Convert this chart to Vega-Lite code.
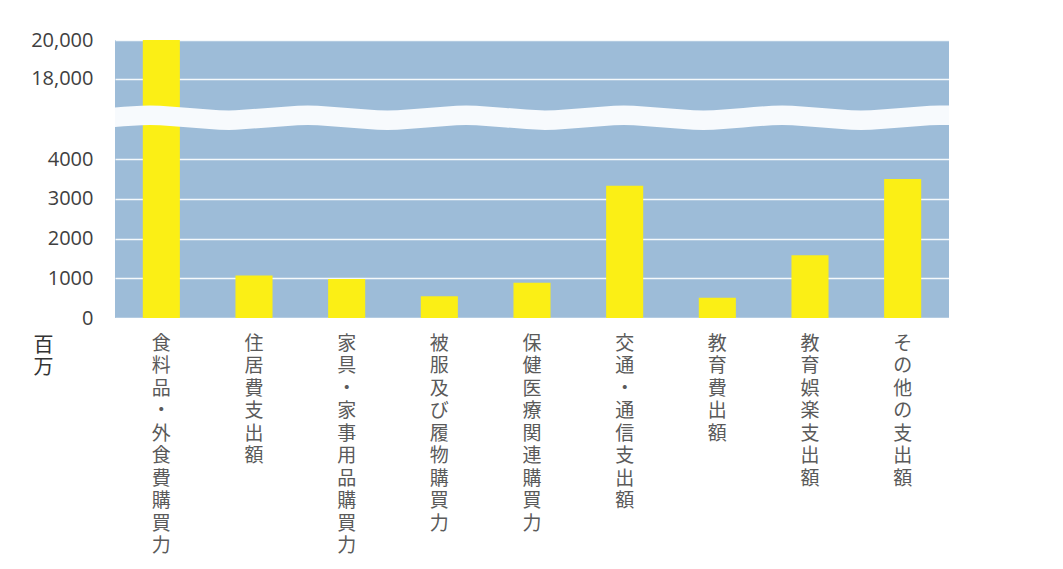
{
  "$schema": "https://vega.github.io/schema/vega-lite/v6.json",
  "autosize": {"type": "none"},
  "width": 834,
  "height": 278,
  "padding": {"left": 115, "top": 40, "right": 114, "bottom": 251},
  "background": "white",
  "config": {
    "view": {"fill": "#9dbcd8", "stroke": null}
  },
  "datasets": {
    "bars": [
      {"item": "食料品・外食費購買力", "value": 20000},
      {"item": "住居費支出額", "value": 1070},
      {"item": "家具・家事用品購買力", "value": 980},
      {"item": "被服及び履物購買力", "value": 550},
      {"item": "保健医療関連購買力", "value": 890},
      {"item": "交通・通信支出額", "value": 3330},
      {"item": "教育費出額", "value": 510},
      {"item": "教育娯楽支出額", "value": 1580},
      {"item": "その他の支出額", "value": 3500}
    ],
    "wave": [
      {"u": 0.0, "top": 14831, "bot": 6582},
      {"u": 0.378, "top": 15698, "bot": 7450},
      {"u": 0.809, "top": 14640, "bot": 6392},
      {"u": 1.23, "top": 13583, "bot": 5335},
      {"u": 1.65, "top": 14640, "bot": 6392},
      {"u": 2.08, "top": 15698, "bot": 7450},
      {"u": 2.51, "top": 14640, "bot": 6392},
      {"u": 2.94, "top": 13583, "bot": 5335},
      {"u": 3.37, "top": 14640, "bot": 6392},
      {"u": 3.79, "top": 15698, "bot": 7450},
      {"u": 4.22, "top": 14640, "bot": 6392},
      {"u": 4.64, "top": 13583, "bot": 5335},
      {"u": 5.07, "top": 14640, "bot": 6392},
      {"u": 5.49, "top": 15698, "bot": 7450},
      {"u": 5.92, "top": 14640, "bot": 6392},
      {"u": 6.35, "top": 13583, "bot": 5335},
      {"u": 6.78, "top": 14640, "bot": 6392},
      {"u": 7.2, "top": 15698, "bot": 7450},
      {"u": 7.63, "top": 14640, "bot": 6392},
      {"u": 8.05, "top": 13583, "bot": 5335},
      {"u": 8.48, "top": 14640, "bot": 6392},
      {"u": 8.9, "top": 15698, "bot": 7450},
      {"u": 9.0, "top": 15635, "bot": 7386}
    ]
  },
  "layer": [
    {
      "data": {"name": "bars"},
      "mark": {"type": "bar", "color": "#fbef15"},
      "encoding": {
        "x": {
          "field": "item",
          "type": "nominal",
          "sort": null,
          "scale": {"paddingInner": 0.6, "paddingOuter": 0.3},
          "axis": {
            "title": null,
            "domain": false,
            "ticks": false,
            "labelAngle": 0,
            "labelAlign": "center",
            "labelBaseline": "top",
            "labelPadding": 16,
            "labelExpr": "split(datum.label, '')",
            "labelLineHeight": 22.5,
            "labelFont": "Noto Sans CJK JP",
            "labelFontSize": 19,
            "labelColor": "#5a5a5a",
            "labelLimit": 0
          }
        },
        "y": {
          "field": "value",
          "type": "quantitative",
          "scale": {
            "domain": [0, 4700, 16750, 20000],
            "range": [278, 91.4, 62.9, 0],
            "nice": false,
            "zero": false,
            "clamp": true
          },
          "axis": {
            "values": [0, 1000, 2000, 3000, 4000, 18000, 20000],
            "labelExpr": "datum.value >= 10000 ? format(datum.value, ',') : format(datum.value, 'd')",
            "domain": false,
            "ticks": false,
            "grid": true,
            "gridColor": "#ffffff",
            "gridWidth": 1.5,
            "gridOpacity": 0.9,
            "labelFont": "Open Sans",
            "labelFontSize": 20,
            "labelColor": "#404040",
            "labelPadding": 22,
            "title": ["百", "万"],
            "titleAngle": 0,
            "titleX": -72,
            "titleY": 295,
            "titleAlign": "center",
            "titleBaseline": "top",
            "titleFont": "Noto Sans CJK JP",
            "titleFontSize": 20,
            "titleFontWeight": "normal",
            "titleColor": "#333333",
            "titleLineHeight": 22
          }
        }
      }
    },
    {
      "data": {"name": "wave"},
      "mark": {"type": "area", "color": "#f7fafd", "interpolate": "monotone", "opacity": 1},
      "encoding": {
        "x": {"field": "u", "type": "quantitative", "scale": {"domain": [0, 9], "nice": false, "zero": false}, "axis": null},
        "y": {"field": "top", "type": "quantitative"},
        "y2": {"field": "bot"}
      }
    }
  ],
  "resolve": {"scale": {"x": "independent"}}
}
